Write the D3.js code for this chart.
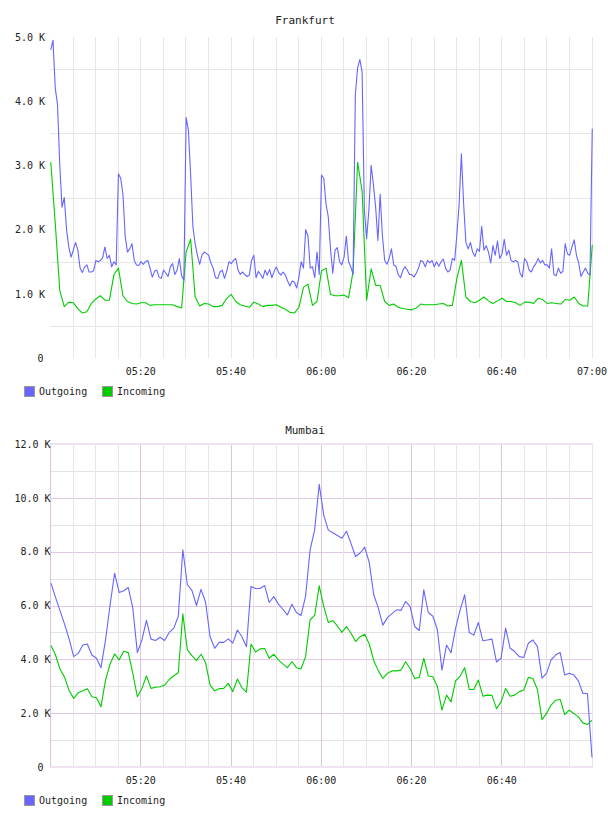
<!DOCTYPE html>
<html>
<head>
<meta charset="utf-8">
<script src="https://cdn.jsdelivr.net/npm/d3@7"></script>
<style>
    body { margin: 0; background: #fff; }
    svg text { font-family: "DejaVu Sans Mono", monospace; fill: #222; }
</style>
</head>
<body>
<svg id="canvas" width="608" height="816"></svg>
<script>
// Series shown in both charts
const seriesNames = ["Outgoing", "Incoming"];
const seriesColors = ["#6666ff", "#00cc00"];

// Frankfurt, values in K, outgoing every 30 s and incoming every minute from 05:00
const frankfurtOutgoing = [
    4.8, 4.95, 4.2, 3.95, 3.0, 2.35, 2.5, 2.0, 1.73, 1.57,
    1.68, 1.8, 1.68, 1.4, 1.33, 1.42, 1.45, 1.34, 1.34, 1.36,
    1.52, 1.5, 1.52, 1.56, 1.73, 1.55, 1.6, 1.42, 1.5, 1.45,
    2.87, 2.8, 2.55, 1.89, 1.65, 1.7, 1.78, 1.52, 1.45, 1.44,
    1.5, 1.46, 1.5, 1.52, 1.4, 1.26, 1.35, 1.37, 1.26, 1.24,
    1.37, 1.32, 1.27, 1.42, 1.47, 1.3, 1.37, 1.55, 1.28, 1.21,
    3.75, 3.55, 2.85, 2.05, 1.78, 1.6, 1.46, 1.6, 1.65, 1.63,
    1.6, 1.48, 1.4, 1.25, 1.24, 1.34, 1.37, 1.24, 1.35, 1.5,
    1.47, 1.52, 1.55, 1.37, 1.3, 1.34, 1.3, 1.27, 1.29, 1.52,
    1.6, 1.25, 1.35, 1.3, 1.24, 1.37, 1.29, 1.38, 1.25, 1.35,
    1.42, 1.33, 1.29, 1.34, 1.29, 1.2, 1.12, 1.2, 1.18, 1.09,
    1.26, 1.5, 1.4, 2.0, 1.9, 1.4, 1.42, 1.25, 1.65, 1.3,
    2.85, 2.8, 2.4, 2.2, 1.7, 1.32, 1.68, 1.72, 1.5, 1.45,
    1.57, 1.9, 1.5, 1.42, 1.3, 4.1, 4.52, 4.65, 4.45, 2.3,
    1.86, 2.3, 3.0, 2.7, 2.35, 1.83, 2.55, 1.9, 1.52, 1.46,
    1.55, 1.7, 1.45, 1.43, 1.3, 1.25, 1.36, 1.42, 1.37, 1.3,
    1.3, 1.26, 1.32, 1.4, 1.52, 1.5, 1.42, 1.52, 1.48, 1.52,
    1.42, 1.5, 1.43, 1.5, 1.54, 1.4, 1.34, 1.37, 1.55, 1.52,
    1.92, 2.4, 3.18, 2.4, 1.8, 1.7, 1.8, 1.65, 1.58, 1.7,
    1.66, 2.05, 1.68, 1.75, 1.65, 1.48, 1.75, 1.6, 1.82, 1.55,
    1.62, 1.85, 1.6, 1.68, 1.52, 1.5, 1.52, 1.5, 1.32, 1.26,
    1.55, 1.5, 1.37, 1.34, 1.42, 1.47, 1.55, 1.48, 1.52, 1.45,
    1.45, 1.4, 1.7, 1.3, 1.28, 1.4, 1.32, 1.35, 1.78, 1.62,
    1.6, 1.73, 1.84, 1.6, 1.48, 1.27, 1.34, 1.4, 1.32, 1.29,
    3.57
];
const frankfurtIncoming = [
    3.05, 2.1, 1.05, 0.8, 0.87, 0.86, 0.77, 0.7, 0.72, 0.85,
    0.92, 0.97, 0.9, 0.9, 1.3, 1.4, 0.97, 0.88, 0.85, 0.84,
    0.86, 0.86, 0.82, 0.83, 0.83, 0.83, 0.83, 0.83, 0.8, 0.78,
    1.65, 1.85, 0.95, 0.81, 0.85, 0.84, 0.8, 0.8, 0.82, 0.93,
    0.99, 0.88, 0.83, 0.81, 0.79, 0.87, 0.84, 0.8, 0.82, 0.82,
    0.83, 0.79, 0.76, 0.71, 0.7, 0.79, 1.1, 1.15, 0.82, 0.88,
    1.36, 1.4, 0.99, 0.97, 0.97, 0.98, 0.94, 1.35, 3.05, 2.6,
    0.9, 1.39, 1.13, 1.13, 0.88, 0.82, 0.84, 0.79, 0.77, 0.76,
    0.75, 0.78, 0.84, 0.83, 0.83, 0.83, 0.84, 0.85, 0.81, 0.82,
    1.24, 1.52, 0.95, 0.88, 0.86, 0.9, 0.95, 0.89, 0.85, 0.89,
    0.93, 0.88, 0.88, 0.86, 0.82, 0.87, 0.87, 0.85, 0.93, 0.91,
    0.85, 0.86, 0.85, 0.84, 0.91, 0.9, 0.95, 0.85, 0.81, 0.81,
    1.76
];

// Mumbai, values in K, one sample about every minute
const mumbaiOutgoing = [
    6.83, 6.3, 5.8, 5.3, 4.75, 4.1, 4.22, 4.53, 4.57, 4.16,
    4.04, 3.69, 4.72, 6.02, 7.2, 6.48, 6.55, 6.67, 5.9, 4.25,
    4.72, 5.45, 4.75, 4.7, 4.82, 4.7, 5.0, 5.15, 5.6, 8.07,
    6.77, 6.56, 6.0, 6.6, 6.12, 4.84, 4.41, 4.63, 4.63, 4.76,
    4.6, 5.09, 4.84, 4.47, 6.71, 6.63, 6.63, 6.74, 6.11, 6.33,
    6.06, 5.86, 5.65, 6.05, 5.74, 5.63, 6.34, 8.07, 8.82, 10.5,
    9.35, 8.8, 8.7, 8.6, 8.5, 8.76, 8.3, 7.82, 7.95, 8.17,
    7.6, 6.4, 5.9, 5.27, 5.55, 5.7, 5.84, 5.82, 6.15, 5.96,
    5.22, 5.07, 6.58, 5.74, 5.6, 5.1, 3.6, 4.53, 4.25, 5.16,
    5.84, 6.4, 5.0, 4.9, 5.37, 4.69, 4.72, 4.75, 3.9, 4.04,
    5.16, 4.41, 4.29, 4.1, 4.07, 4.6, 4.72, 4.47, 3.3, 3.48,
    3.98, 4.16, 4.25, 3.42, 3.48, 3.42, 3.2, 2.73, 2.73, 0.35
];
const mumbaiIncoming = [
    4.51, 4.16, 3.63, 3.33, 2.83, 2.55, 2.76, 2.83, 2.91, 2.61,
    2.57, 2.24, 3.23, 3.83, 4.2, 3.98, 4.3, 4.25, 3.48, 2.61,
    2.92, 3.38, 2.92, 2.96, 2.98, 3.04, 3.25, 3.39, 3.5, 5.69,
    4.35, 4.14, 3.95, 4.19, 3.88, 3.04, 2.83, 2.91, 2.92, 3.11,
    2.8, 3.27, 2.94, 2.78, 4.57, 4.27, 4.39, 4.4, 4.04, 4.19,
    3.98, 3.83, 3.69, 3.91, 3.69, 3.64, 4.1, 5.47, 5.63, 6.73,
    5.96, 5.37, 5.44, 5.24, 5.0, 5.22, 4.97, 4.66, 4.84, 4.93,
    4.57, 3.95, 3.58, 3.29, 3.48, 3.57, 3.57, 3.6, 3.91, 3.66,
    3.29, 3.33, 4.04, 3.38, 3.35, 2.98, 2.11, 2.67, 2.42, 3.2,
    3.38, 3.69, 2.88, 2.88, 3.23, 2.63, 2.67, 2.66, 2.17, 2.42,
    2.92, 2.63, 2.67, 2.8, 2.86, 3.33, 3.29, 2.88, 1.76, 1.99,
    2.3, 2.48, 2.51, 1.95, 2.11, 1.99, 1.86, 1.64, 1.58, 1.74
];

// Axis labels
const frankfurtTicksY = [0, 1, 2, 3, 4, 5];
const mumbaiTicksY = [0, 2, 4, 6, 8, 10, 12];
const frankfurtTimeLabels = ["05:20", "05:40", "06:00", "06:20", "06:40", "07:00"];
const mumbaiTimeLabels = ["05:20", "05:40", "06:00", "06:20", "06:40"];

const parseTime = d3.timeParse("%H:%M:%S");
const canvas = d3.select("#canvas");

//Builds time stamps for a series starting at `start` with a step in seconds
const timesFor = (values, start, stepSec) => {
    const t0 = parseTime(start).getTime();
    return values.map((v, i) => ({ t: new Date(t0 + i * stepSec * 1000), v: v }));
};

const drawChart = (cfg) => {
    const x = d3.scaleTime()
        .domain([parseTime("05:00:00"), parseTime("07:00:00")])
        .range([50, 591.5]);
    const y = d3.scaleLinear()
        .domain([0, cfg.yMax])
        .range([cfg.bottom, cfg.top]);

    const g = canvas.append("g");

    //Title
    g.append("text")
        .attr("x", 305)
        .attr("y", cfg.titleY)
        .attr("text-anchor", "middle")
        .style("font-size", "11px")
        .text(cfg.title);

    //Grid lines
    const fiveMin = d3.timeMinute.every(5).range(parseTime("05:05:00"), parseTime("07:00:01"));
    const grid = g.append("g").attr("shape-rendering", "crispEdges");

    grid.selectAll(".hgrid")
        .data(cfg.hGrid)
        .enter()
        .append("line")
        .attr("x1", 50)
        .attr("x2", 593)
        .attr("y1", (d) => Math.round(y(d)) + 0.5)
        .attr("y2", (d) => Math.round(y(d)) + 0.5)
        .attr("stroke", (d) => cfg.hColor(d));

    grid.selectAll(".vgrid")
        .data(fiveMin)
        .enter()
        .append("line")
        .attr("x1", (d) => Math.round(x(d)) + 0.5)
        .attr("x2", (d) => Math.round(x(d)) + 0.5)
        .attr("y1", cfg.top)
        .attr("y2", cfg.bottom)
        .attr("stroke", (d) => cfg.vColor(d));

    if (cfg.frame) {
        grid.append("line")
            .attr("x1", 50.5).attr("x2", 50.5)
            .attr("y1", cfg.top).attr("y2", cfg.bottom)
            .attr("stroke", "#dcc4dc");
        grid.append("line")
            .attr("x1", 592.5).attr("x2", 592.5)
            .attr("y1", cfg.top).attr("y2", cfg.bottom)
            .attr("stroke", "#f0e2f0");
        grid.selectAll(".edge")
            .data([cfg.top, cfg.bottom])
            .enter()
            .append("line")
            .attr("x1", 50).attr("x2", 593)
            .attr("y1", (d) => d).attr("y2", (d) => d)
            .attr("stroke", "#f0e2f0")
            .attr("stroke-width", 2);
    }

    //Clip the lines to the plot area
    const clipId = "clip-" + cfg.title;
    g.append("clipPath")
        .attr("id", clipId)
        .append("rect")
        .attr("x", 50)
        .attr("y", cfg.top - 2)
        .attr("width", 544)
        .attr("height", cfg.bottom - cfg.top + 2);

    const line = d3.line()
        .x((d) => x(d.t))
        .y((d) => y(d.v));

    //Incoming first so outgoing lies on top
    cfg.series.slice().reverse().forEach((s) => {
        g.append("path")
            .datum(s.points)
            .attr("clip-path", "url(#" + clipId + ")")
            .attr("fill", "none")
            .attr("stroke", s.color)
            .attr("stroke-width", 1.1)
            .attr("stroke-linejoin", "round")
            .attr("d", line);
    });

    //Y axis labels
    const yAxis = d3.axisLeft(y)
        .tickValues(cfg.yTicks)
        .tickSize(0)
        .tickPadding(0)
        .tickFormat((d) => d === 0 ? "0" : d.toFixed(1) + " K");
    const ya = g.append("g")
        .attr("transform", "translate(" + cfg.labelX + ",0)")
        .call(yAxis);
    ya.select(".domain").remove();
    ya.selectAll("text")
        .attr("x", (d) => d === 0 ? 43.5 - cfg.labelX : 0)
        .style("font-size", "10px")
        .style("font-family", "'DejaVu Sans Mono', monospace");

    //X axis labels
    const xAxis = d3.axisBottom(x)
        .tickValues(cfg.timeLabels.map((d) => parseTime(d + ":00")))
        .tickSize(0)
        .tickPadding(0)
        .tickFormat(d3.timeFormat("%H:%M"));
    const xa = g.append("g")
        .attr("transform", "translate(0," + cfg.xLabelY + ")")
        .call(xAxis);
    xa.select(".domain").remove();
    xa.selectAll("text")
        .style("font-size", "10px")
        .style("font-family", "'DejaVu Sans Mono', monospace");

    //Legend
    const legendX = [24, 102];
    const item = g.selectAll(".legend-item")
        .data(cfg.series)
        .enter()
        .append("g")
        .attr("transform", (d, i) => "translate(" + legendX[i] + "," + cfg.legendY + ")");
    item.append("rect")
        .attr("x", 0.5)
        .attr("y", 0.5)
        .attr("width", 10)
        .attr("height", 10)
        .attr("fill", (d) => d.color)
        .attr("stroke", "#999");
    item.append("text")
        .attr("x", 15)
        .attr("y", 9)
        .style("font-size", "10px")
        .text((d) => d.name);
};

drawChart({
    title: "Frankfurt",
    titleY: 24,
    top: 37,
    bottom: 358,
    yMax: 5,
    yTicks: frankfurtTicksY,
    hGrid: [0.5, 1.5, 2.5, 3.5, 4.5],
    hColor: () => "#e6e6e6",
    vColor: () => "#e6e6e6",
    frame: false,
    labelX: 45,
    xLabelY: 368,
    legendY: 386,
    timeLabels: frankfurtTimeLabels,
    series: [
        { name: seriesNames[0], color: seriesColors[0], points: timesFor(frankfurtOutgoing, "05:00:10", 30) },
        { name: seriesNames[1], color: seriesColors[1], points: timesFor(frankfurtIncoming, "05:00:10", 60) }
    ]
});

drawChart({
    title: "Mumbai",
    titleY: 434,
    top: 444,
    bottom: 767,
    yMax: 12,
    yTicks: mumbaiTicksY,
    hGrid: d3.range(1, 12),
    hColor: (d) => d % 2 === 0 ? "#e2c8e2" : "#e2e2e2",
    vColor: (d) => d.getMinutes() % 20 === 0 ? "#dcc4dc" : "#e6e6e6",
    frame: true,
    labelX: 50.5,
    xLabelY: 777,
    legendY: 795,
    timeLabels: mumbaiTimeLabels,
    series: [
        { name: seriesNames[0], color: seriesColors[0], points: timesFor(mumbaiOutgoing, "05:00:13", 60.45) },
        { name: seriesNames[1], color: seriesColors[1], points: timesFor(mumbaiIncoming, "05:00:13", 60.45) }
    ]
});
</script>
</body>
</html>
